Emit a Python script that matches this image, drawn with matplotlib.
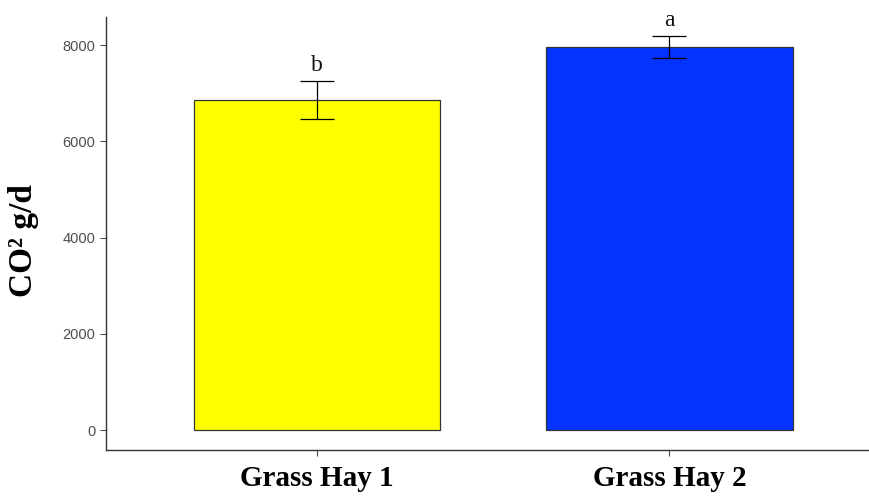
import matplotlib.pyplot as plt

# Données
categories = ['Grass Hay 1', 'Grass Hay 2']
moyennes = [6860, 7955]
erreurs = [395, 230]
lettres = ['b', 'a']
couleurs = ['#FFFF00', '#0433FF']

fig = plt.figure(figsize=(8.7, 4.96), dpi=100)
ax = fig.add_axes([0.1218, 0.0927, 0.878, 0.873])

pos = [1, 2]
ax.bar(pos, moyennes, width=0.7, color=couleurs, edgecolor='#333333', linewidth=0.9, zorder=2)
ax.errorbar(pos, moyennes, yerr=erreurs, fmt='none', ecolor='black', elinewidth=0.9,
            capsize=12, capthick=0.9, zorder=3)

# Lettres de significativité
for x, m, e, l in zip(pos, moyennes, erreurs, lettres):
    ax.text(x, m + e + 110, l, ha='center', va='bottom', fontsize=17,
            family='Liberation Serif', color='#111111')

ax.set_xlim(0.401, 2.569)
ax.set_ylim(-416, 8582)
ax.set_xticks(pos)
ax.set_xticklabels(categories, fontsize=21, fontweight='bold', family='Liberation Serif')
ax.set_yticks([0, 2000, 4000, 6000, 8000])
ax.tick_params(axis='y', labelsize=10.5, labelcolor='#4d4d4d', color='#4d4d4d', length=4)
ax.tick_params(axis='x', color='#4d4d4d', length=4, pad=7)
for lab in ax.get_yticklabels():
    lab.set_family('Liberation Sans')

ax.set_ylabel('CO² g/d', fontsize=24, fontweight='bold', family='Liberation Serif')
ax.yaxis.set_label_coords(-0.088, 0.485)

for s in ['top', 'right']:
    ax.spines[s].set_visible(False)
for s in ['left', 'bottom']:
    ax.spines[s].set_color('#333333')
    ax.spines[s].set_linewidth(1.0)

fig.savefig('out.png', dpi=100)
